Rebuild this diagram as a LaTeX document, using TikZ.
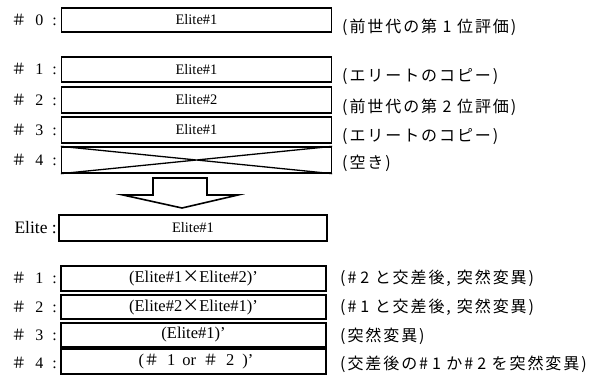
\documentclass[tikz,border=0pt]{standalone}
\usepackage{fontspec}
\setmainfont{Liberation Serif}
\newfontfamily\cjk[LetterSpace=12]{Noto Sans CJK JP}
\newfontfamily\cjkn{Noto Sans CJK JP}
\newcommand{\hs}{{\cjkn\fontsize{15}{15}\selectfont ＃}}
\begin{document}
\begin{tikzpicture}[x=1pt,y=-1pt,
  cell/.style={draw=black,line width=1.3pt,inner sep=0pt,minimum width=270pt,
    font=\fontsize{14.5}{14.5}\selectfont},
  cellb/.style={cell,minimum width=265pt,font=\fontsize{16.5}{16.5}\selectfont},
  lab/.style={anchor=east,inner sep=0pt,font=\fontsize{16}{16}\selectfont},
  note/.style={anchor=west,inner sep=0pt,font=\cjk\fontsize{16}{16}\selectfont}]
\useasboundingbox (0,0) rectangle (607,386);
% top boxes
\node[cell,minimum height=24pt] (b0) at (196.5,20) {Elite\#1};
\node[cell,minimum height=25pt] (b1) at (196.5,69.5) {Elite\#1};
\node[cell,minimum height=26pt] (b2) at (196.5,100) {Elite\#2};
\node[cell,minimum height=26pt] (b3) at (196.5,130) {Elite\#1};
\node[cell,minimum height=26pt] (b4) at (196.5,160) {};
\draw[line width=1.3pt] (b4.north west) -- (b4.south east) (b4.south west) -- (b4.north east);
% labels
\node[lab] (l0) at (57,20) {\hs\hspace{9pt}0\hspace{9pt}:};
\node[lab] (l1) at (57,69) {\hs\hspace{9pt}1\hspace{9pt}:};
\node[lab] (l2) at (57,100) {\hs\hspace{9pt}2\hspace{9pt}:};
\node[lab] (l3) at (57,130) {\hs\hspace{9pt}3\hspace{9pt}:};
\node[lab] (l4) at (57,160) {\hs\hspace{9pt}4\hspace{9pt}:};
% notes
\node[note] (n0) at (342,27) {(前世代の第 1 位評価)};
\node[note] (n1) at (342,77) {(エリートのコピー)};
\node[note] (n2) at (342,107) {(前世代の第 2 位評価)};
\node[note] (n3) at (342,137) {(エリートのコピー)};
\node[note] (n4) at (342,163) {(空き)};
% block arrow
\coordinate (a1) at (153,178);
\draw[line width=1.6pt,line join=miter] (a1) -- (207,178) -- (207,195) -- (238,195) -- (182,208) -- (123,195) -- (153,195) -- cycle;
% elite
\node[cell,minimum width=268pt,minimum height=26pt] (e) at (193,228) {Elite\#1};
\node[lab,font=\fontsize{17.5}{17.5}\selectfont] (le) at (57,228) {Elite :};
% bottom boxes
\node[cellb,minimum height=25pt] (c1) at (193.5,278.5) {(Elite\#1{\cjkn\fontsize{17}{17}\selectfont ×}Elite\#2)'};
\node[cellb,minimum height=24pt] (c2) at (193.5,307) {(Elite\#2{\cjkn\fontsize{17}{17}\selectfont ×}Elite\#1)'};
\node[cellb,minimum height=24pt] (c3) at (193.5,335) {(Elite\#1)'};
\node[cellb,minimum height=25pt] (c4) at (193.5,361.5) {\hspace{5pt}(\hs\hspace{8pt}1\hspace{7pt}or\hspace{7pt}\hs\hspace{8pt}2\hspace{8pt})'};
\node[lab] (k1) at (57,278) {\hs\hspace{9pt}1\hspace{9pt}:};
\node[lab] (k2) at (57,307) {\hs\hspace{9pt}2\hspace{9pt}:};
\node[lab] (k3) at (57,335) {\hs\hspace{9pt}3\hspace{9pt}:};
\node[lab] (k4) at (57,363) {\hs\hspace{9pt}4\hspace{9pt}:};
\node[note] (m1) at (340,278) {(\#\hspace{4pt}2 と交差後,\hspace{6pt}突然変異)};
\node[note] (m2) at (340,307) {(\#\hspace{4pt}1 と交差後,\hspace{6pt}突然変異)};
\node[note] (m3) at (340,336) {(突然変異)};
\node[note] (m4) at (340,364) {(交差後の\#\hspace{4pt}1 か\#\hspace{4pt}2 を突然変異)};
\end{tikzpicture}
\end{document}
